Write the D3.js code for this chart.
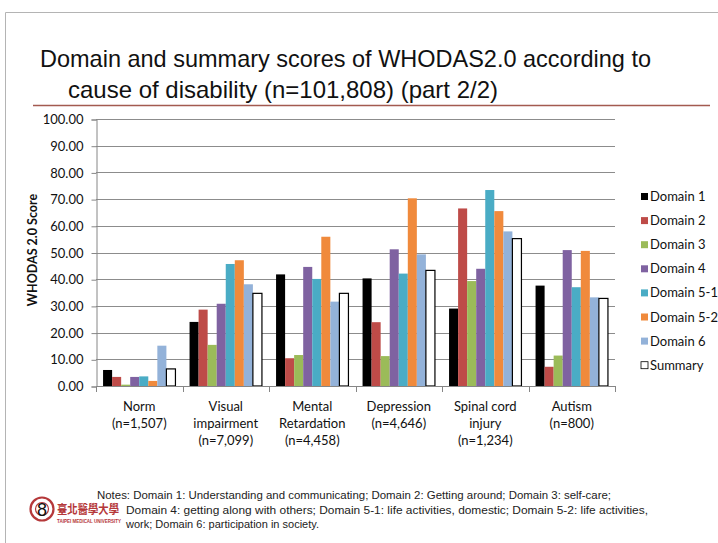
<!DOCTYPE html>
<html>
<head>
<meta charset="utf-8">
<script src="https://cdn.jsdelivr.net/npm/d3@7"></script>
<style>
  html, body { margin: 0; padding: 0; background: #fff; }
  svg { display: block; }
</style>
</head>
<body>
<svg id="chart" width="718" height="543"></svg>
<script>
// Causes of disability (with sample sizes) shown on the x axis
const categories = ["Norm", "Visual impairment", "Mental Retardation", "Depression", "Spinal cord injury", "Autism"];
const categoryLines = [
  ["Norm", "(n=1,507)"],
  ["Visual", "impairment", "(n=7,099)"],
  ["Mental", "Retardation", "(n=4,458)"],
  ["Depression", "(n=4,646)"],
  ["Spinal cord", "injury", "(n=1,234)"],
  ["Autism", "(n=800)"]
];
const series = ["Domain 1", "Domain 2", "Domain 3", "Domain 4", "Domain 5-1", "Domain 5-2", "Domain 6", "Summary"];

// WHODAS 2.0 scores per series, one value per category
const domain1  = [6.0, 24.0, 41.8, 40.3, 29.0, 37.6];
const domain2  = [3.4, 28.6, 10.4, 23.9, 66.5, 7.2];
const domain3  = [0.5, 15.4, 11.6, 11.2, 39.3, 11.4];
const domain4  = [3.4, 30.8, 44.6, 51.2, 43.9, 50.9];
const domain51 = [3.6, 45.7, 40.1, 42.1, 73.4, 37.0];
const domain52 = [1.9, 47.1, 55.9, 70.3, 65.5, 50.6];
const domain6  = [15.1, 38.1, 31.6, 49.3, 57.9, 33.2];
const summary  = [6.4, 34.7, 34.7, 43.3, 55.2, 32.8];

const yTicks = [0, 10, 20, 30, 40, 50, 60, 70, 80, 90, 100];

const seriesValues = [domain1, domain2, domain3, domain4, domain51, domain52, domain6, summary];
const colors = ["#000000", "#BE4B48", "#9BBB59", "#7F62A1", "#4AACC5", "#F08A3C", "#93B2D9", "#FFFFFF"];

const svg = d3.select("#chart");
const chartFont = "Lato, 'Open Sans', sans-serif";

// Slide frame
svg.append("path")
  .attr("d", "M5.5,543 L5.5,12.5 L718,12.5")
  .attr("fill", "none").attr("stroke", "#b4b4b4").attr("stroke-width", 1);

// Title
const title = svg.append("g").attr("font-family", "'Liberation Sans', Arial, sans-serif")
  .attr("font-size", 24).attr("fill", "#111");
title.append("text").attr("x", 40).attr("y", 67)
  .attr("textLength", 611).attr("lengthAdjust", "spacingAndGlyphs")
  .text("Domain and summary scores of WHODAS2.0 according to");
title.append("text").attr("x", 68).attr("y", 98)
  .attr("textLength", 430).attr("lengthAdjust", "spacingAndGlyphs")
  .text("cause of disability (n=101,808) (part 2/2)");

svg.append("line").attr("x1", 33).attr("x2", 710).attr("y1", 105.5).attr("y2", 105.5)
  .attr("stroke", "#A35A50").attr("stroke-width", 1.5);

// Scales
const x0 = d3.scaleBand().domain(categories).range([96, 615]).paddingInner(0).paddingOuter(0);
const x1 = d3.scaleBand().domain(series).range([0, x0.bandwidth()]).paddingInner(0).paddingOuter(0.78);
const y = d3.scaleLinear().domain([0, 100]).range([386, 119]);

// Gridlines
svg.append("g").selectAll("line").data(yTicks.filter(d => d > 0)).join("line")
  .attr("x1", 96).attr("x2", 615)
  .attr("y1", d => Math.round(y(d)) + 0.5).attr("y2", d => Math.round(y(d)) + 0.5)
  .attr("stroke", "#8c8c8c").attr("stroke-width", 1);

// Y axis
const yAxis = svg.append("g").attr("transform", "translate(96.5,0.5)")
  .call(d3.axisLeft(y).tickValues(yTicks).tickFormat(d3.format(".2f")).tickSize(5).tickPadding(8));
yAxis.select(".domain").attr("stroke", "#868686");
yAxis.selectAll(".tick line").attr("stroke", "#868686");
yAxis.selectAll("text").attr("font-family", chartFont).attr("font-size", 13).attr("fill", "#111");

svg.append("text")
  .attr("transform", "translate(37,250) rotate(-90)")
  .attr("text-anchor", "middle")
  .attr("font-family", chartFont).attr("font-size", 12.5).attr("font-weight", "bold").attr("fill", "#111")
  .text("WHODAS 2.0  Score");

// Bars
const groups = svg.append("g").selectAll("g").data(categories).join("g")
  .attr("transform", d => `translate(${x0(d)},0)`);
groups.selectAll("rect")
  .data((c, ci) => series.map((s, si) => ({ s, si, v: seriesValues[si][ci] })))
  .join("rect")
  .attr("x", d => x1(d.s))
  .attr("y", d => y(d.v))
  .attr("width", x1.bandwidth())
  .attr("height", d => y(0) - y(d.v))
  .attr("fill", d => colors[d.si])
  .attr("stroke", d => d.s === "Summary" ? "#000" : "none")
  .attr("stroke-width", 1.2);

// X axis
const xAxisG = svg.append("g");
xAxisG.append("line").attr("x1", 96).attr("x2", 615.5).attr("y1", 386.5).attr("y2", 386.5)
  .attr("stroke", "#868686");
const boundaries = categories.map(c => x0(c)).concat([x0.range()[1]]);
xAxisG.selectAll("line.tick").data(boundaries).join("line").attr("class", "tick")
  .attr("x1", d => Math.round(d) + 0.5).attr("x2", d => Math.round(d) + 0.5)
  .attr("y1", 386).attr("y2", 392).attr("stroke", "#868686");

const labels = svg.append("g").attr("font-family", chartFont).attr("font-size", 13)
  .attr("fill", "#111").attr("text-anchor", "middle");
categories.forEach((c, i) => {
  const t = labels.append("text").attr("x", x0(c) + x0.bandwidth() / 2);
  categoryLines[i].forEach((line, k) => {
    t.append("tspan").attr("x", x0(c) + x0.bandwidth() / 2).attr("y", 411 + k * 17).text(line);
  });
});

// Legend
const legend = svg.append("g").attr("font-family", chartFont).attr("font-size", 13).attr("fill", "#111");
series.forEach((s, i) => {
  const cy = 196.5 + i * 24.1;
  legend.append("rect").attr("x", 641).attr("y", cy - 3.5).attr("width", 7).attr("height", 7)
    .attr("fill", colors[i]).attr("stroke", s === "Summary" ? "#000" : "none").attr("stroke-width", 0.8);
  legend.append("text").attr("x", 650).attr("y", cy + 4.5).text(s);
});

// University emblem and name
const logo = svg.append("g");
logo.append("circle").attr("cx", 42).attr("cy", 509).attr("r", 11.5)
  .attr("fill", "none").attr("stroke", "#B5383A").attr("stroke-width", 2.2);
logo.append("circle").attr("cx", 42).attr("cy", 509).attr("r", 6.5)
  .attr("fill", "none").attr("stroke", "#B5383A").attr("stroke-width", 1.2);
logo.append("text").attr("x", 57).attr("y", 514)
  .attr("font-family", "'Noto Sans CJK TC', sans-serif").attr("font-size", 12).attr("font-weight", "bold")
  .attr("fill", "#B5383A").attr("textLength", 62).attr("lengthAdjust", "spacingAndGlyphs")
  .text("臺北醫學大學");
logo.append("text").attr("x", 57).attr("y", 523)
  .attr("font-family", "'Liberation Sans', Arial, sans-serif").attr("font-size", 5).attr("font-weight", "bold")
  .attr("fill", "#B5383A").attr("textLength", 64).attr("lengthAdjust", "spacingAndGlyphs")
  .text("TAIPEI MEDICAL UNIVERSITY");
logo.append("text").attr("x", 42).attr("y", 516).attr("text-anchor", "middle")
  .attr("font-family", "'Liberation Sans', Arial, sans-serif").attr("font-size", 18).attr("fill", "#111")
  .text("8");

// Notes
const notes = svg.append("g").attr("font-family", "'Liberation Sans', Arial, sans-serif")
  .attr("font-size", 11).attr("fill", "#222");
notes.append("text").attr("x", 97).attr("y", 499)
  .attr("textLength", 514).attr("lengthAdjust", "spacingAndGlyphs")
  .text("Notes: Domain 1: Understanding and communicating; Domain 2: Getting around; Domain 3: self-care;");
notes.append("text").attr("x", 126).attr("y", 514)
  .attr("textLength", 522).attr("lengthAdjust", "spacingAndGlyphs")
  .text("Domain 4: getting along with others; Domain 5-1: life activities, domestic; Domain 5-2: life activities,");
notes.append("text").attr("x", 126).attr("y", 528)
  .text("work; Domain 6: participation in society.");
</script>
</body>
</html>
